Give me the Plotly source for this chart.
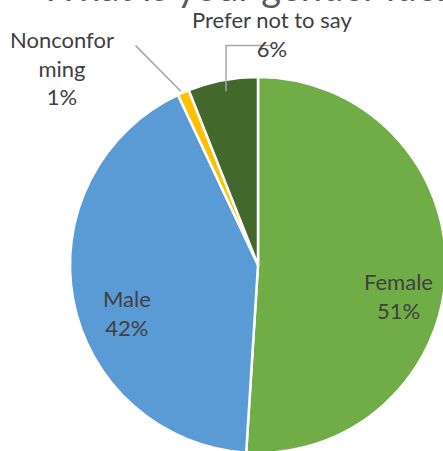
import math
import plotly.graph_objects as go

categories = ["Female", "Male", "Nonconforming", "Prefer not to say"]
display_labels = ["Female", "Male", "Nonconfor<br>ming", "Prefer not to say"]
values = [51, 42, 1, 6]
colors = ["#70AD47", "#5B9BD5", "#FFC000", "#43682B"]
title_text = "What is your gender identity?"

W, H = 452, 456
cx, cy, r = 258, 265, 188

# label block centres (pixels from top-left) and leader-line elbows (None = inside label)
label_pos = [(398, 296), (127, 313), (62, 68), (272, 34)]
leader_elbow = [None, None, ((155, 46), (144, 46)), ((237, 66), (250, 66))]

fig = go.Figure(go.Pie(
    labels=categories,
    values=values,
    textinfo="none",
    sort=False,
    direction="clockwise",
    rotation=0,
    marker=dict(colors=colors, line=dict(color="white", width=2.5)),
    showlegend=False,
    hoverinfo="label+percent",
    domain=dict(x=[(cx - r) / W, (cx + r) / W],
                y=[(H - cy - r) / H, (H - cy + r) / H]),
))

total = sum(values)
cum = 0
annotations = []
shapes = []
for lab, v, (lx, ly), elbow in zip(display_labels, values, label_pos, leader_elbow):
    pct = round(100 * v / total)
    annotations.append(dict(
        text=f"{lab}<br>{pct}%", x=lx / W, y=1 - ly / H, xref="paper", yref="paper",
        xanchor="center", yanchor="middle", showarrow=False, align="center",
        font=dict(family="Lato", size=22, color="#404040"),
    ))
    mid = 2 * math.pi * (cum + v / 2) / total
    cum += v
    if elbow is not None:
        sx = cx + (r - 2) * math.sin(mid)
        sy = cy - (r - 2) * math.cos(mid)
        (ex, ey), (tx, ty) = elbow
        path = "M {:.1f},{:.1f} L {:.1f},{:.1f} L {:.1f},{:.1f}".format(
            sx / W, 1 - sy / H, ex / W, 1 - ey / H, tx / W, 1 - ty / H)
        shapes.append(dict(type="path", xref="paper", yref="paper", path=path,
                           line=dict(color="#A6A6A6", width=1.5)))

annotations.append(dict(
    text=title_text, x=38 / W, y=1 - 11 / H, xref="paper", yref="paper",
    xanchor="left", yanchor="bottom", showarrow=False,
    font=dict(family="Lato", size=38, color="#595959"),
))

fig.update_layout(
    width=W, height=H,
    margin=dict(l=0, r=0, t=0, b=0),
    paper_bgcolor="white",
    annotations=annotations,
    shapes=shapes,
)

fig.write_html("out.html",
               config={"displayModeBar": False},
               post_script="document.body.style.margin='0';document.body.style.overflow='hidden';")
